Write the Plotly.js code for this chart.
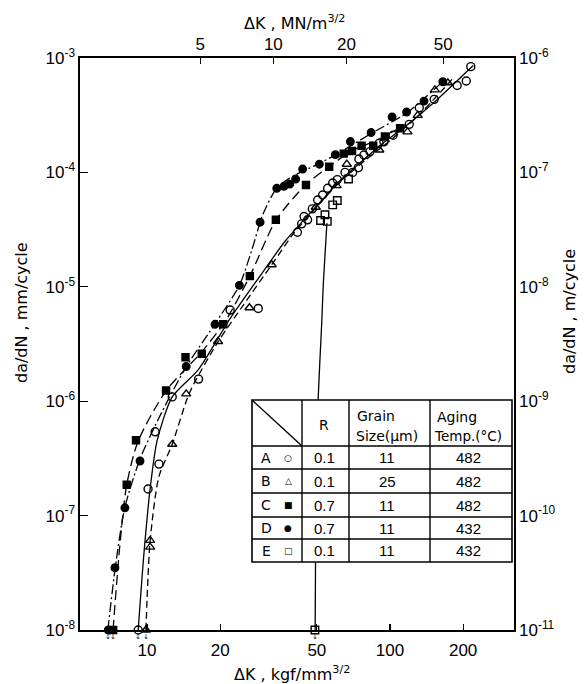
<!DOCTYPE html>
<html><head><meta charset="utf-8">
<script src="https://cdn.plot.ly/plotly-3.0.1.min.js"></script>
<style>html,body{margin:0;padding:0;background:#fff}#chart{width:586px;height:684px}</style>
</head><body><div id="chart"></div>
<script>
// ---------- data (ΔK in kgf/mm^3/2, da/dN in mm/cycle) ----------
const A_K = [9.2, 10.1, 11.2, 10.8, 12.7, 16.3, 22.0, 28.7, 41.6, 43.3, 45.8, 44.3, 47.9, 50.4, 52.8, 55.4, 58.1, 60.7, 65.3, 70.2, 74.1, 74.5, 78.1, 82.7, 90.2, 94.4, 103, 120, 132, 152, 189, 206, 215];
const A_y = [1e-8, 1.71e-7, 2.82e-7, 5.4e-7, 1.09e-6, 1.56e-6, 6.26e-6, 6.47e-6, 3.0e-5, 3.55e-5, 3.85e-5, 4.12e-5, 4.8e-5, 5.74e-5, 6.35e-5, 7.26e-5, 8.07e-5, 8.65e-5, 1.0e-4, 1.0e-4, 1.1e-4, 1.31e-4, 1.42e-4, 1.52e-4, 1.8e-4, 1.85e-4, 2.11e-4, 2.63e-4, 3.67e-4, 4.35e-4, 5.75e-4, 6.3e-4, 8.4e-4];
const B_K = [9.9, 10.3, 10.3, 12.7, 14.5, 19.6, 26.4, 32.6, 49.5, 60.3, 66.4, 90.4, 118, 130, 153, 173];
const B_y = [1e-8, 5.3e-8, 6.07e-8, 4.2e-7, 1.16e-6, 3.33e-6, 6.56e-6, 1.56e-5, 4.96e-5, 7.66e-5, 1.18e-4, 1.57e-4, 2.26e-4, 3.15e-4, 5.26e-4, 6.07e-4];
const C_K = [7.26, 8.25, 9.01, 11.98, 14.4, 16.8, 20.6, 26.5, 33.9, 45.1, 56.2, 64.5, 69.8, 76.4, 85.3, 95.3, 110];
const C_y = [1e-8, 1.86e-7, 4.55e-7, 1.24e-6, 2.42e-6, 2.6e-6, 4.7e-6, 1.24e-5, 3.85e-5, 7.77e-5, 1.12e-4, 1.46e-4, 1.54e-4, 1.71e-4, 1.71e-4, 2.06e-4, 2.43e-4];
const D_K = [6.93, 7.38, 8.11, 9.36, 14.5, 19.05, 24.0, 29.2, 34.2, 36.6, 38.7, 40.9, 43.7, 51.2, 59.6, 68.7, 83.6, 102, 117, 138, 165];
const D_y = [1e-8, 3.5e-8, 1.17e-7, 3.0e-7, 2.01e-6, 4.7e-6, 1.03e-5, 3.67e-5, 7.26e-5, 7.55e-5, 7.9e-5, 8.75e-5, 1.07e-4, 1.18e-4, 1.43e-4, 1.86e-4, 2.23e-4, 3.05e-4, 3.37e-4, 4.2e-4, 6.2e-4];
const E_K = [49.1, 51.8, 55.2, 54.0, 58.1, 60.7, 67.5];
const E_y = [1e-8, 3.8e-5, 3.73e-5, 4.26e-5, 5.2e-5, 5.68e-5, 8.75e-5];

// hand-drawn fitted curves
const Afit_K = [9.2, 9.7, 10.3, 11.0, 12.7, 16.3, 22, 30, 37, 44, 52, 62, 75, 92, 115, 150, 220];
const Afit_y = [1e-8, 4.5e-8, 1.71e-7, 4.5e-7, 1.09e-6, 1.9e-6, 5.3e-6, 1.35e-5, 2.5e-5, 3.8e-5, 5.6e-5, 8.4e-5, 1.2e-4, 1.75e-4, 2.5e-4, 4.0e-4, 8.6e-4];
const Bfit_K = [9.9, 10.3, 11.2, 12.7, 15, 19.6, 25, 32.6, 40, 50, 62, 80, 100, 130, 180];
const Bfit_y = [1e-8, 6e-8, 2.2e-7, 4.2e-7, 1.2e-6, 3.3e-6, 7.0e-6, 1.56e-5, 2.9e-5, 5e-5, 8.2e-5, 1.3e-4, 1.9e-4, 3.1e-4, 6.5e-4];
const Cfit_K = [7.25, 7.7, 8.25, 9.2, 12, 16.8, 21, 26.5, 34, 45, 56, 70, 90, 115];
const Cfit_y = [1e-8, 5e-8, 1.86e-7, 4.5e-7, 1.24e-6, 2.7e-6, 5e-6, 1.24e-5, 3.85e-5, 7.8e-5, 1.12e-4, 1.55e-4, 1.95e-4, 2.6e-4];
const Dfit_K = [6.9, 7.4, 8.1, 9.4, 11.5, 14.5, 19, 24, 27, 30, 34.2, 40, 50, 60, 84, 117, 170];
const Dfit_y = [1e-8, 3.5e-8, 1.17e-7, 3.2e-7, 8e-7, 2e-6, 4.7e-6, 1.03e-5, 2.1e-5, 4.3e-5, 7.3e-5, 9.3e-5, 1.17e-4, 1.43e-4, 2.2e-4, 3.3e-4, 6.6e-4];
const Efit_K = [55.0, 53.2, 52.4, 50.6, 49.5, 49.2];
const Efit_y = [3.6e-5, 1.1e-5, 5e-6, 1e-6, 1e-7, 1e-8];

// run-out (no growth) points at the bottom
const run_K = [6.93, 7.26, 9.2, 9.9, 49.1];

// axis ticks
const bottomTicks = [10, 20, 50, 100, 200];
const topTicks = [5, 10, 20, 50, 100];
const leftTicks = [1e-8, 1e-7, 1e-6, 1e-5, 1e-4, 1e-3];
const leftText = ['10<sup>-8</sup>','10<sup>-7</sup>','10<sup>-6</sup>','10<sup>-5</sup>','10<sup>-4</sup>','10<sup>-3</sup>'];
const rightTicks = [1e-11, 1e-10, 1e-9, 1e-8, 1e-7, 1e-6];
const rightText = ['10<sup>-11</sup>','10<sup>-10</sup>','10<sup>-9</sup>','10<sup>-8</sup>','10<sup>-7</sup>','10<sup>-6</sup>'];

// table
const tabLabel = ['A','B','C','D','E'];
const tabSym = ['○','△','■','●','□'];
const tabR = ['0.1','0.1','0.7','0.7','0.1'];
const tabGrain = ['11','25','11','11','11'];
const tabTemp = ['482','482','482','432','432'];

// gridline segments (gaps around the curves) : [y, [[k0,k1],...]]
const gridSegs = [
  [1e-4, [[5.3, 29.2], [98, 324]]],
  [1e-5, [[5.3, 17.0], [69.8, 324]]],
  [1e-6, [[5.3, 9.5], [19.2, 324]]],
  [1e-7, [[5.3, 6.6], [13.4, 24.8]]]
];

// ---------- layout geometry ----------
const W = 586, H = 684, Lp = 80, Rp = 514, Tp = 58, Bp = 630;
const px = x => (x - Lp) / (Rp - Lp);
const py = y => (Bp - y) / (Bp - Tp);
const xr = [1 - 67/243, 1 + 367/243];
const MN = 0.302; // kgf/mm^1.5 -> MN/m^1.5 as drawn on the figure
const xr2 = [xr[0] + Math.log10(MN), xr[1] + Math.log10(MN)];
const FONT = 'Liberation Sans, Arial, sans-serif';
const TFONT = 'DejaVu Sans, sans-serif';

function fit(k, y, dash) {
  return {x: k, y: y, mode: 'lines', type: 'scatter', line: {color: '#000', width: 1.3, dash: dash, shape: 'spline', smoothing: 0.7}, hoverinfo: 'skip', cliponaxis: false};
}
function pts(k, y, sym, size) {
  return {x: k, y: y, mode: 'markers', type: 'scatter', cliponaxis: false,
    marker: {symbol: sym, size: size, color: '#000', line: {color: '#000', width: 1.4}}};
}
const traces = [
  fit(Afit_K, Afit_y, 'solid'),
  fit(Bfit_K, Bfit_y, '7px,4px'),
  fit(Cfit_K, Cfit_y, '10px,5px'),
  fit(Dfit_K, Dfit_y, '10px,3px,2px,3px'),
  fit(Efit_K, Efit_y, 'solid'),
  pts(A_K, A_y, 'circle-open', 8),
  pts(B_K, B_y, 'triangle-up-open', 8),
  pts(C_K, C_y, 'square', 7),
  pts(D_K, D_y, 'circle', 7.5),
  pts(E_K, E_y, 'square-open', 7.5),
  {x: [], y: [], xaxis: 'x2', yaxis: 'y2', type: 'scatter', mode: 'markers', showlegend: false}
];

const shapes = [];
gridSegs.forEach(g => g[1].forEach(s => shapes.push({type: 'line', xref: 'x', yref: 'y',
  x0: Math.log10(s[0]), x1: Math.log10(s[1]), y0: Math.log10(g[0]), y1: Math.log10(g[0]),
  line: {color: '#000', width: 1.2}, layer: 'below'})));

// table
const colX = [252, 302, 349, 430, 512];
const rowY = [400, 446, 469, 493, 517, 539, 562];
shapes.push({type: 'rect', xref: 'paper', yref: 'paper', x0: px(colX[0]), x1: px(colX[4]), y0: py(rowY[0]), y1: py(rowY[6]),
  fillcolor: '#fff', line: {color: '#000', width: 1.6}, layer: 'above'});
colX.slice(1, 4).forEach(c => shapes.push({type: 'line', xref: 'paper', yref: 'paper', x0: px(c), x1: px(c), y0: py(rowY[0]), y1: py(rowY[6]), line: {color: '#000', width: 1.4}, layer: 'above'}));
rowY.slice(1, 6).forEach(r => shapes.push({type: 'line', xref: 'paper', yref: 'paper', x0: px(colX[0]), x1: px(colX[4]), y0: py(r), y1: py(r), line: {color: '#000', width: 1.4}, layer: 'above'}));
shapes.push({type: 'line', xref: 'paper', yref: 'paper', x0: px(colX[0]), x1: px(colX[1]), y0: py(rowY[0]), y1: py(rowY[1]), line: {color: '#000', width: 1.4}, layer: 'above'});

const ann = [];
const tf = {family: FONT, size: 15, color: '#000'};
const hf = {family: TFONT, size: 14, color: '#000'};
function txt(x, y, t, opt) { ann.push(Object.assign({xref: 'paper', yref: 'paper', x: px(x), y: py(y), text: t, showarrow: false, font: tf, xanchor: 'center', yanchor: 'middle'}, opt || {})); }
txt(324, 425, 'R', {font: hf});
txt(355, 416, 'Grain', {xanchor: 'left', font: hf});
txt(354, 436, 'Size(μm)', {xanchor: 'left', font: hf});
txt(435, 417, 'Aging', {xanchor: 'left', font: hf});
txt(432, 436, 'Temp.(°C)', {xanchor: 'left', font: {family: TFONT, size: 13.5, color: '#000'}});
for (let i = 0; i < 5; i++) {
  const yc = (rowY[i + 1] + rowY[i + 2]) / 2;
  txt(266, yc, tabLabel[i], {font: hf});
  txt(288, yc, tabSym[i], {font: {family: 'DejaVu Sans', size: 9, color: '#000'}});
  txt(324, yc, tabR[i]);
  txt(387, yc, tabGrain[i]);
  txt(468, yc, tabTemp[i]);
}
// run-out arrows
run_K.forEach(k => ann.push({xref: 'x', yref: 'y', x: Math.log10(k), y: -8, yshift: -7, text: '↓', showarrow: false, font: {family: 'DejaVu Sans', size: 7, color: '#000'}}));
// axis titles
const titf = {family: TFONT, size: 16, color: '#000'};
txt(294, 22, 'ΔK , MN/m<sup>3/2</sup>', {font: titf});
txt(292, 673, 'ΔK , kgf/mm<sup>3/2</sup>', {font: titf});
txt(21, 313, 'da/dN , mm/cycle', {textangle: -90, font: titf});
txt(569, 312, 'da/dN , m/cycle', {textangle: -90, font: titf});

const axBase = {type: 'log', showgrid: false, zeroline: false, showline: true, linecolor: '#000', linewidth: 1.6,
  ticks: 'inside', ticklen: 6, tickwidth: 1.2, tickcolor: '#000', tickfont: {family: FONT, size: 17, color: '#000'}};
const layout = {
  width: W, height: H, showlegend: false, paper_bgcolor: '#fff', plot_bgcolor: '#fff',
  margin: {l: Lp, r: W - Rp, t: Tp, b: H - Bp, pad: 0},
  xaxis: Object.assign({}, axBase, {range: xr, tickvals: bottomTicks, ticktext: bottomTicks.map(String), ticklabelstandoff: 4}),
  xaxis2: Object.assign({}, axBase, {range: xr2, overlaying: 'x', side: 'top', anchor: 'y', tickvals: topTicks, ticktext: topTicks.map(String)}),
  yaxis: Object.assign({}, axBase, {range: [-8, -3], tickvals: leftTicks, ticktext: leftText, ticklen: 8}),
  yaxis2: Object.assign({}, axBase, {range: [-11, -6], overlaying: 'y', side: 'right', anchor: 'x', tickvals: rightTicks, ticktext: rightText, ticklen: 0}),
  shapes: shapes, annotations: ann
};
Plotly.newPlot('chart', traces, layout, {staticPlot: true});
</script></body></html>
